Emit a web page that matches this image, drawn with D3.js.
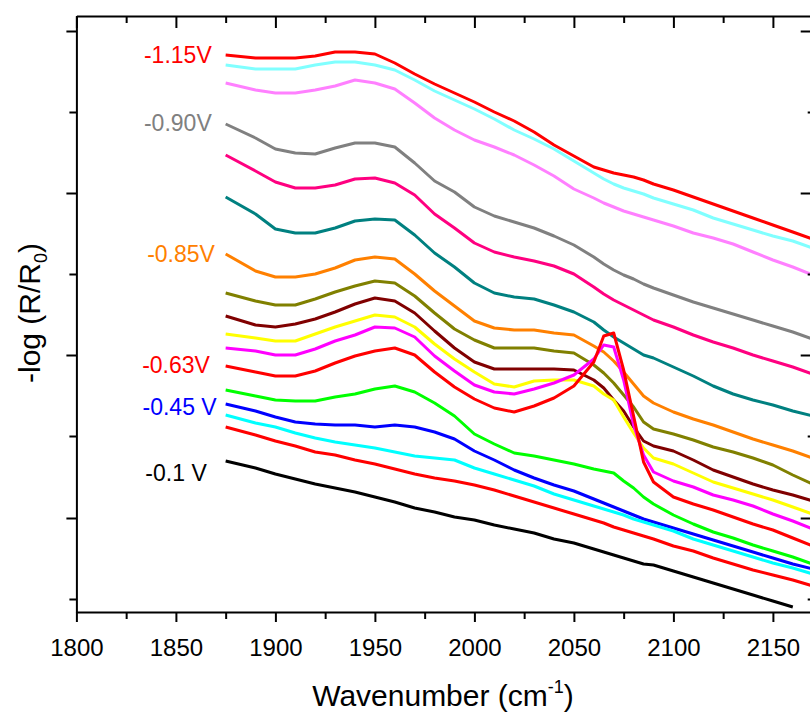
<!DOCTYPE html>
<html>
<head>
<meta charset="utf-8">
<script src="https://cdn.jsdelivr.net/npm/d3@7"></script>
<style>
  body { margin: 0; background: #fff; }
  text { font-family: "Liberation Sans", Arial, sans-serif; }
</style>
</head>
<body>
<script>
// wavenumber grid (cm-1) shared by all spectra
var wavenumbers = [1875, 1890, 1900, 1910, 1920, 1930, 1940, 1950, 1960, 1970, 1980, 1990,
                   2000, 2010, 2020, 2030, 2040, 2050, 2060, 2065, 2070, 2075, 2080, 2085,
                   2090, 2100, 2110, 2120, 2130, 2140, 2150, 2160, 2170];

// -log(R/R0), offset spectra (arbitrary units), top of the stack first
var sRed115   = [557, 554, 554, 554, 556, 560, 560, 558, 549, 538, 528, 519, 510, 500, 491, 480, 467, 456, 445, 442, 439, 437, 435, 432, 428, 422, 415, 408, 401, 394, 387, 380, 373];
var sCyanLt   = [547, 543, 543, 543, 547, 550, 550, 547, 542, 532, 521, 512, 503, 493, 482, 473, 463, 451, 439, 433, 428, 424, 421, 418, 414, 408, 402, 394, 388, 382, 376, 371, 364];
var sVioletLt = [529, 522, 519, 519, 522, 526, 532, 529, 523, 509, 494, 482, 472, 465, 457, 447, 436, 423, 414, 409, 405, 401, 398, 395, 392, 386, 379, 374, 368, 360, 352, 345, 337];
var sGray090  = [488, 474, 463, 459, 458, 464, 469, 469, 465, 449, 431, 420, 405, 396, 390, 384, 376, 367, 355, 348, 342, 337, 333, 328, 324, 317, 310, 304, 298, 292, 286, 280, 273];
var sPink     = [457, 441, 430, 424, 424, 427, 433, 434, 429, 417, 398, 384, 369, 360, 355, 351, 346, 338, 325, 318, 312, 307, 302, 297, 292, 285, 277, 270, 264, 257, 251, 245, 238];
var sTeal     = [415, 398, 383, 379, 379, 384, 391, 393, 392, 377, 359, 345, 329, 319, 315, 313, 307, 300, 290, 282, 275, 269, 263, 257, 254, 245, 236, 226, 218, 212, 207, 201, 196];
var sOrange085= [358, 341, 335, 335, 338, 344, 352, 355, 353, 338, 321, 306, 291, 284, 282, 282, 279, 277, 266, 260, 251, 240, 228, 216, 209, 200, 193, 187, 180, 173, 167, 161, 154];
var sOlive    = [319, 311, 307, 307, 313, 320, 326, 331, 329, 316, 299, 283, 272, 264, 264, 264, 261, 259, 247, 239, 229, 217, 205, 190, 183, 178, 172, 165, 160, 154, 147, 137, 128];
var sMaroon   = [296, 287, 285, 288, 293, 300, 308, 314, 311, 299, 281, 264, 250, 243, 243, 243, 243, 242, 232, 224, 212, 201, 185, 171, 166, 161, 152, 142, 135, 128, 122, 117, 111];
var sYellow   = [278, 274, 271, 271, 278, 285, 291, 297, 295, 285, 268, 253, 240, 228, 225, 231, 232, 232, 226, 218, 212, 195, 179, 164, 154, 148, 139, 130, 124, 118, 112, 105, 98];
var sMagenta  = [264, 261, 257, 257, 263, 271, 277, 285, 284, 275, 256, 241, 227, 220, 218, 223, 229, 237, 253, 267, 265, 232, 187, 157, 140, 131, 125, 117, 112, 106, 98, 91, 83];
var sRed063   = [246, 240, 236, 236, 241, 249, 256, 261, 264, 257, 240, 225, 213, 204, 200, 206, 214, 226, 250, 276, 279, 242, 196, 150, 130, 115, 108, 102, 95, 88, 82, 74, 66];
var sGreen    = [222, 216, 212, 211, 211, 215, 218, 223, 226, 220, 209, 196, 178, 168, 159, 156, 152, 148, 143, 141, 139, 131, 124, 115, 108, 97, 88, 80, 74, 67, 61, 55, 48];
var sBlue045  = [208, 201, 195, 190, 188, 187, 187, 185, 187, 185, 180, 173, 161, 152, 142, 134, 127, 121, 113, 109, 105, 101, 97, 93, 90, 84, 78, 72, 66, 60, 54, 48, 43];
var sCyan     = [197, 189, 185, 179, 174, 170, 167, 164, 160, 156, 154, 152, 144, 138, 132, 126, 118, 112, 106, 103, 100, 97, 93, 90, 87, 81, 73, 67, 61, 55, 49, 44, 38];
var sRedLow   = [185, 177, 171, 166, 160, 157, 152, 148, 143, 138, 134, 131, 127, 122, 116, 110, 104, 98, 92, 89, 85, 82, 79, 76, 73, 66, 61, 54, 48, 42, 37, 32, 26];
var sBlack01  = [151, 144, 138, 133, 128, 124, 120, 115, 110, 104, 100, 95, 92, 87, 83, 79, 73, 69, 63, 60, 57, 54, 51, 48, 47, 41, 35, 29, 23, 17, 11, 5, null];

var spectra = [sRed115, sCyanLt, sVioletLt, sGray090, sPink, sTeal, sOrange085, sOlive,
               sMaroon, sYellow, sMagenta, sRed063, sGreen, sBlue045, sCyan, sRedLow, sBlack01];
var colors = ["#ff0000", "#80ffff", "#ff80ff", "#808080", "#ff0080", "#008080", "#ff8000", "#808000",
              "#800000", "#ffff00", "#ff00ff", "#ff0000", "#00ff00", "#0000ff", "#00ffff", "#ff0000", "#000000"];

// potential labels (text, colour, anchor wavenumber, level)
var labelText   = ["-1.15V", "-0.90V", "-0.85V", "-0.63V", "-0.45 V", "-0.1 V"];
var labelColor  = ["#ff0000", "#808080", "#ff8000", "#ff0000", "#0000ff", "#000000"];
var labelWave   = [1868, 1868, 1869.6, 1867.1, 1870.5, 1865.5];
var labelLevel  = [557, 489, 358, 247, 205, 139];

var xMajor = [1800, 1850, 1900, 1950, 2000, 2050, 2100, 2150];
var xMinor = [1825, 1875, 1925, 1975, 2025, 2075, 2125];
var yMajor = [94, 257, 419, 581];
var yMinor = [13, 176, 338, 500];

var width = 810, height = 715;
var plotL = 76.4, plotR = 812.7, plotT = 16, plotB = 612;

var svg = d3.select("body").append("svg")
            .attr("width", width)
            .attr("height", height);

var x = d3.scaleLinear().domain([1800, 2170]).range([plotL, plotR]);
var y = d3.scaleLinear().domain([0, 596]).range([plotB, plotT]);

// spectra
var line = d3.line()
             .defined(function(d) { return d != null; })
             .x(function(d, i) { return x(wavenumbers[i]); })
             .y(function(d) { return y(d); });

svg.selectAll("path.spec")
   .data(spectra)
   .enter()
   .append("path")
   .attr("class", "spec")
   .attr("d", line)
   .attr("fill", "none")
   .attr("stroke", function(d, i) { return colors[i]; })
   .attr("stroke-width", 3)
   .attr("stroke-linejoin", "round");

// axes
function styleAxis(g) {
    g.selectAll("path.domain").attr("stroke", "#000").attr("stroke-width", 2);
    g.selectAll(".tick line").attr("stroke", "#000").attr("stroke-width", 2);
}

var gb = svg.append("g").attr("transform", "translate(0," + plotB + ")")
            .call(d3.axisBottom(x).tickValues(xMajor).tickSize(10).tickSizeOuter(0)
                    .tickPadding(17).tickFormat(d3.format("d")));
styleAxis(gb);
gb.selectAll("text").attr("font-size", 24).attr("fill", "#000")
  .attr("font-family", "'Liberation Sans', Arial, sans-serif");
var gbm = svg.append("g").attr("transform", "translate(0," + plotB + ")")
             .call(d3.axisBottom(x).tickValues(xMinor).tickSize(7).tickFormat(""));
gbm.select(".domain").remove();
styleAxis(gbm);

var gt = svg.append("g").attr("transform", "translate(0," + plotT + ")")
            .call(d3.axisBottom(x).tickValues(xMajor).tickSize(12).tickSizeOuter(0).tickFormat(""));
styleAxis(gt);
var gtm = svg.append("g").attr("transform", "translate(0," + plotT + ")")
             .call(d3.axisBottom(x).tickValues(xMinor).tickSize(7).tickFormat(""));
gtm.select(".domain").remove();
styleAxis(gtm);

var gl = svg.append("g").attr("transform", "translate(" + plotL + ",0)")
            .call(d3.axisLeft(y).tickValues(yMajor).tickSize(10).tickSizeOuter(0).tickFormat(""));
styleAxis(gl);
var glm = svg.append("g").attr("transform", "translate(" + plotL + ",0)")
             .call(d3.axisLeft(y).tickValues(yMinor).tickSize(7).tickFormat(""));
glm.select(".domain").remove();
styleAxis(glm);

var gr = svg.append("g").attr("transform", "translate(" + plotR + ",0)")
            .call(d3.axisLeft(y).tickValues(yMajor).tickSize(12).tickSizeOuter(0).tickFormat(""));
styleAxis(gr);
var grm = svg.append("g").attr("transform", "translate(" + plotR + ",0)")
             .call(d3.axisLeft(y).tickValues(yMinor).tickSize(5).tickFormat(""));
grm.select(".domain").remove();
styleAxis(grm);

// potential labels
svg.selectAll("text.pot")
   .data(labelText)
   .enter()
   .append("text")
   .attr("class", "pot")
   .attr("x", function(d, i) { return x(labelWave[i]); })
   .attr("y", function(d, i) { return y(labelLevel[i]); })
   .attr("dy", "0.36em")
   .attr("text-anchor", "end")
   .attr("font-size", 23)
   .attr("fill", function(d, i) { return labelColor[i]; })
   .text(function(d) { return d; });

// axis titles
var xt = svg.append("text")
            .attr("x", 443)
            .attr("y", 706)
            .attr("text-anchor", "middle")
            .attr("font-size", 30);
xt.append("tspan").text("Wavenumber (cm");
xt.append("tspan").attr("font-size", 18).attr("dy", -13).text("-1");
xt.append("tspan").attr("dy", 13).text(")");

var yt = svg.append("text")
            .attr("transform", "translate(40,313) rotate(-90)")
            .attr("text-anchor", "middle")
            .attr("font-size", 30);
yt.append("tspan").text("-log (R/R");
yt.append("tspan").attr("font-size", 18).attr("dy", 7).text("0");
yt.append("tspan").attr("dy", -7).text(")");
</script>
</body>
</html>
